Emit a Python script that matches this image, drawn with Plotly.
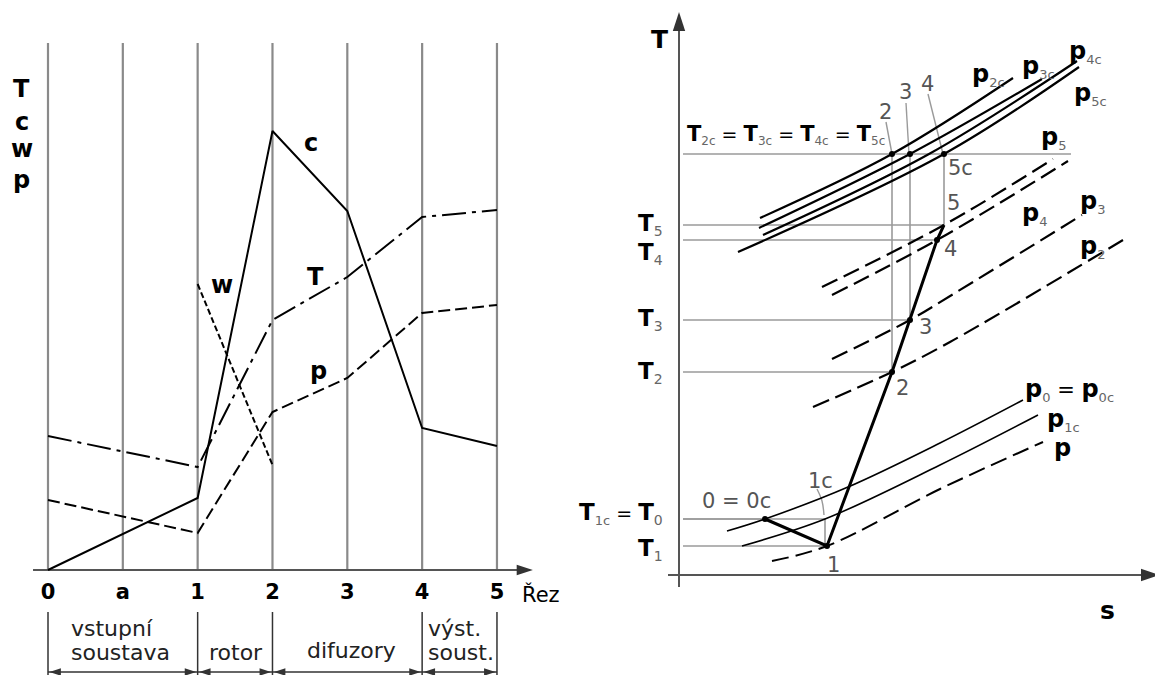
import plotly.graph_objects as go

# ================= Left panel: quantities along the machine =================
section_pos = [0, 1, 2, 3, 4, 5, 6]
section_labels = ["0", "a", "1", "2", "3", "4", "5"]
section_top = 527
station_pos = [0, 2, 3, 4, 5, 6]              # sections 0, 1, 2, 3, 4, 5
c_values = [0, 72, 439, 359, 142, 124]
T_values = [134, 103, 250, 293, 353, 360]
p_values = [70, 37, 158, 192, 257, 265]
w_pos = [2, 3]
w_values = [286, 105]
part_bounds = [0, 2, 3, 5, 6]
part_lines = [("vstupní", 0.28, -58), ("soustava", 0.28, -82), ("rotor", 2.12, -82),
              ("difuzory", 3.43, -80), ("výst.", 5.05, -58), ("soust.", 5.05, -82)]
axis_start, axis_end = -0.2, 6.48

# ================= Right panel: T-s diagram =================
state_names = ["0", "1", "2", "3", "4", "5"]
state_s = [86, 148, 213, 231, 258, 265]
state_T = [56, 29, 203, 255, 335, 350]
T_c = 421                       # T2c = T3c = T4c = T5c
s_c = [213, 231, 265]           # 2c, 3c, 5c
s_1c = 146                      # 1c on T0 level

iso_p2c = ([81, 213, 334], [357, 421, 497])
iso_p3c = ([80, 231, 363], [347, 421, 496])
iso_p4c = ([84, 250, 398], [340, 421, 514])
iso_p5c = ([59, 265, 400], [323, 421, 508])
iso_p5 = ([143, 265, 374], [288, 350, 416])
iso_p4 = ([153, 258, 389], [280, 335, 414])
iso_p3 = ([153, 231, 276, 403], [216, 255, 282, 360])
iso_p2 = ([134, 213, 271, 444], [168, 203, 233, 335])
iso_p0 = ([48, 86, 169, 261, 344], [44, 56, 88, 132, 175])
iso_p1c = ([63, 146, 261, 359], [29, 56, 110, 160])
iso_p = ([93, 148, 261, 364], [14, 29, 86, 133])

fig = go.Figure()
L = dict(xaxis="x", yaxis="y")
R = dict(xaxis="x2", yaxis="y2")
GRAY = "#9a9a9a"
BOLD = "DejaVu Sans"


def line(x, y, ax, color="black", width=2.0, dash=None, shape="linear"):
    fig.add_trace(go.Scatter(x=x, y=y, mode="lines", hoverinfo="skip", showlegend=False,
                             line=dict(color=color, width=width, dash=dash, shape=shape,
                                       smoothing=1.0 if shape == "spline" else None), **ax))


def arrow_tip(x, y, angle, ax, size=16, color="#333"):
    fig.add_trace(go.Scatter(x=x, y=y, mode="markers", hoverinfo="skip", showlegend=False,
                             marker=dict(symbol="arrow", size=size, angle=angle, color=color,
                                         line=dict(width=0)), **ax))


def label(text, x, y, ax, size=21, color="black", xanchor="center", yanchor="middle"):
    fig.add_annotation(text=text, x=x, y=y, xref=ax["xaxis"], yref=ax["yaxis"], showarrow=False,
                       font=dict(size=size, color=color, family=BOLD), xanchor=xanchor, yanchor=yanchor)


# ---------- left panel ----------
xs, ys = [], []
for s in section_pos:
    xs += [s, s, None]
    ys += [0, section_top, None]
line(xs, ys, L, color="#8a8a8a", width=2.2)
line([axis_start, axis_end - 0.1], [0, 0], L, color="#555", width=2)
arrow_tip([axis_end], [0], [90], L, size=17)

line(station_pos, c_values, L, width=2)
line(w_pos, w_values, L, width=2, dash="6px,3px")
line(station_pos, T_values, L, width=2, dash="24px,6px,4px,6px")
line(station_pos, p_values, L, width=2, dash="12px,5px")

fig.add_trace(go.Scatter(x=section_pos, y=[-24] * len(section_pos), mode="text",
                         text=[f"<b>{t}</b>" for t in section_labels], hoverinfo="skip",
                         showlegend=False, textfont=dict(size=21, color="black", family=BOLD), **L))
label("Řez", 6.31, -24, L, size=21, xanchor="left")

for t, yy in zip(["T", "c", "w", "p"], [481, 448, 421, 390]):
    label(f"<b>{t}</b>", -0.35, yy, L, size=24)
label("<b>c</b>", 3.52, 427, L, size=24)
label("<b>w</b>", 2.33, 285, L, size=24)
label("<b>T</b>", 3.57, 293, L, size=24)
label("<b>p</b>", 3.62, 199, L, size=24)

# bracket of machine parts
xs, ys = [], []
for b in part_bounds:
    xs += [b, b, None]
    ys += [-42, -115, None]
line(xs, ys, L, color="#333", width=1.5)
for a, b in zip(part_bounds[:-1], part_bounds[1:]):
    line([a, b], [-102, -102], L, color="#333", width=1.5)
    arrow_tip([a + 0.02, b - 0.02], [-102, -102], [-90, 90], L, size=12)
for t, x, y in part_lines:
    label(t, x, y, L, size=22, color="#222", xanchor="left")

# ---------- right panel ----------
line([0, 0], [-12, 545], R, color="#555", width=2)
arrow_tip([0], [563], [0], R, size=20)
line([-11, 465], [0, 0], R, color="#555", width=2)
arrow_tip([481], [0], [90], R, size=20)
label("<b>T</b>", -20, 536, R, size=25)
label("<b>s</b>", 428, -35, R, size=25)

# reference temperature lines
line([4, 392], [T_c, T_c], R, color=GRAY, width=1.6)
for s, T in zip(state_s, state_T):
    line([4, s], [T, T], R, color=GRAY, width=1.6)
line([4, s_1c], [state_T[0], state_T[0]], R, color=GRAY, width=1.6)
for sc, s, T in zip(s_c, [state_s[2], state_s[3], state_s[5]], [state_T[2], state_T[3], state_T[5]]):
    line([sc, s], [T_c, T], R, color=GRAY, width=1.6)
line([s_1c, s_1c], [state_T[0], state_T[1]], R, color=GRAY, width=1.6)
# leaders
line([207, 213], [453, T_c], R, color=GRAY, width=1.4)
line([227, 230], [472, T_c], R, color=GRAY, width=1.4)
line([249, 264], [481, T_c], R, color=GRAY, width=1.4)
line([138, 143, 145], [86, 74, 60], R, color=GRAY, width=1.4, shape="spline")

# isobars
for iso in (iso_p2c, iso_p3c, iso_p4c, iso_p5c):
    line(iso[0], iso[1], R, width=2.2, shape="spline")
for iso in (iso_p5, iso_p4, iso_p3, iso_p2):
    line(iso[0], iso[1], R, width=2.2, dash="17px,7px", shape="spline")
line(iso_p0[0], iso_p0[1], R, width=1.6, shape="spline")
line(iso_p1c[0], iso_p1c[1], R, width=1.6, shape="spline")
line(iso_p[0], iso_p[1], R, width=2, dash="17px,7px", shape="spline")

# process line
line(state_s, state_T, R, width=3)
fig.add_trace(go.Scatter(x=state_s[:5] + s_c, y=state_T[:5] + [T_c] * 3, mode="markers",
                         marker=dict(size=6, color="black"), hoverinfo="skip", showlegend=False, **R))

# state labels
G = "#555"
label("0 = 0c", 57, 74, R, color=G)
label("1c", 141, 94, R, color=G)
for name, x, y in zip(state_names[1:], [154, 223, 246, 271, 274], [10, 187, 248, 326, 372]):
    label(name, x, y, R, color=G)
for name, x, y in zip(["2", "3", "4"], [206, 226, 248], [463, 483, 491]):
    label(name, x, y, R, color=G)
label("5c", 281, 407, R, color=G)


def sub(t, s, fs=13):
    return f"<b>{t}</b><sub><span style='color:#666;font-size:{fs}px'>{s}</span></sub>"


eq = "<span style='font-size:19px'> = </span>"
label(eq.join(sub("T", s, 12) for s in ["2c", "3c", "4c", "5c"]), 6, 440, R, size=21,
      xanchor="left")
for t, v in [("5", 351), ("4", 322), ("3", 256), ("2", 203), ("1", 26)]:
    label(sub("T", t, 14), -14, v, R, size=23, xanchor="right")
label(f"{sub('T','1c', 13)}{eq}{sub('T','0', 14)}", -14, 62, R, size=23, xanchor="right")

for s_, x, y in [("2c", 291, 500), ("3c", 341, 508), ("4c", 388, 523), ("5c", 393, 481),
                 ("5", 360, 437), ("4", 341, 361), ("3", 399, 373), ("2", 399, 328),
                 ("1c", 366, 155)]:
    label(sub("p", s_), x, y, R, size=24, xanchor="left")
label(f"{sub('p','0')}<span style='font-size:21px'> = </span>{sub('p','0c')}", 344, 185, R,
      size=24, xanchor="left")
label("<b>p</b>", 373, 127, R, size=24, xanchor="left")

# ranges compensate for the 8 px page margin of the HTML body
ax_common = dict(visible=False, fixedrange=True)
fig.update_layout(
    width=1163, height=675, margin=dict(l=0, r=0, t=0, b=0),
    paper_bgcolor="white", plot_bgcolor="white", showlegend=False,
    font=dict(family="DejaVu Sans"),
    xaxis=dict(domain=[0, 0.5], range=[-0.5345, 7.2366], **ax_common),
    yaxis=dict(domain=[0, 1], range=[-113, 562], **ax_common),
    xaxis2=dict(domain=[0.5, 1], range=[-89.5, 492], anchor="y2", **ax_common),
    yaxis2=dict(domain=[0, 1], range=[-108, 567], anchor="x2", **ax_common),
)
fig.write_html("out.html")
